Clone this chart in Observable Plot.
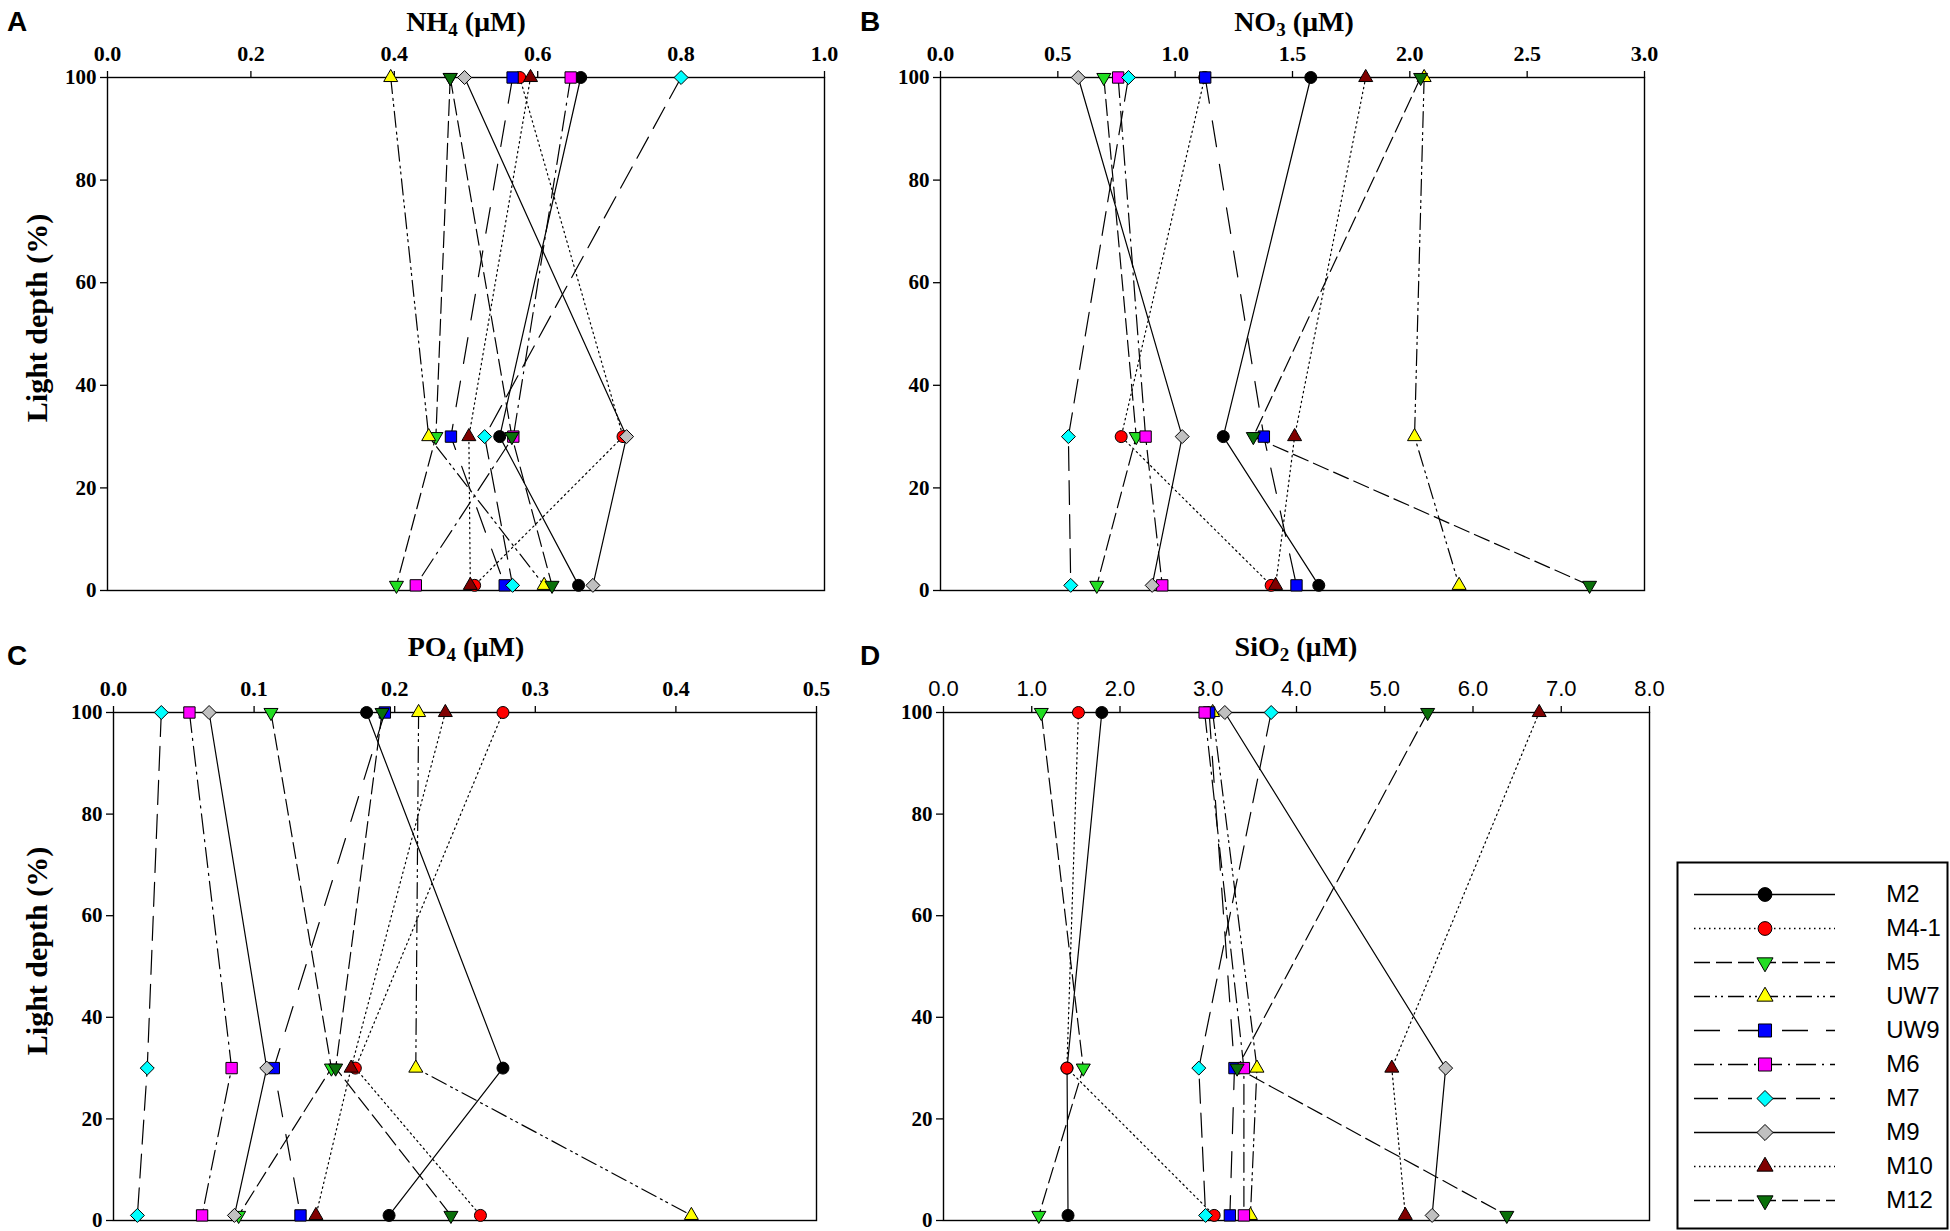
<!DOCTYPE html>
<html><head><meta charset="utf-8">
<script src="https://cdn.jsdelivr.net/npm/d3@7"></script>
<script src="https://cdn.jsdelivr.net/npm/@observablehq/plot@0.6"></script>
<style>
body{margin:0;background:#fff;}
#root{position:relative;width:1950px;height:1231px;overflow:hidden;background:#fff;color:#000;}
.abs{position:absolute;}
.title{font-family:"Liberation Serif","Times New Roman",serif;font-weight:bold;font-size:28px;transform:translate(-50%,-50%);white-space:nowrap;line-height:1;}
.title sub{font-size:0.68em;vertical-align:-0.25em;line-height:0;}
.letter{font-family:"Liberation Sans",Arial,sans-serif;font-weight:bold;font-size:28px;transform:translate(-50%,-50%);line-height:1;}
.ylab{font-family:"Liberation Serif","Times New Roman",serif;font-weight:bold;font-size:30px;transform:translate(-50%,-50%) rotate(-90deg);white-space:nowrap;line-height:1;}
</style></head>
<body><div id="root"></div>
<script>
// ---- data ----
const series = ["M2","M4-1","M5","UW7","UW9","M6","M7","M9","M10","M12"];
const depths = [100, 30, 1];
// values per series at light depths [100, 30, 1]
const nh4 = [
  [0.660, 0.547, 0.657],
  [0.575, 0.719, 0.512],
  [0.478, 0.458, 0.403],
  [0.395, 0.448, 0.609],
  [0.565, 0.479, 0.554],
  [0.646, 0.566, 0.430],
  [0.800, 0.526, 0.565],
  [0.498, 0.724, 0.677],
  [0.590, 0.504, 0.506],
  [0.478, 0.564, 0.620]
];
const no3 = [
  [1.578, 1.205, 1.612],
  [1.126, 0.770, 1.409],
  [0.696, 0.834, 0.666],
  [2.061, 2.020, 2.210],
  [1.128, 1.378, 1.517],
  [0.757, 0.874, 0.945],
  [0.801, 0.545, 0.555],
  [0.587, 1.030, 0.902],
  [1.812, 1.509, 1.428],
  [2.046, 1.333, 2.766]
];
const po4 = [
  [0.180, 0.277, 0.196],
  [0.277, 0.172, 0.261],
  [0.112, 0.155, 0.089],
  [0.217, 0.215, 0.411],
  [0.193, 0.114, 0.133],
  [0.054, 0.084, 0.063],
  [0.034, 0.024, 0.017],
  [0.068, 0.109, 0.086],
  [0.236, 0.169, 0.144],
  [0.191, 0.158, 0.240]
];
const sio2 = [
  [1.794, 1.400, 1.411],
  [1.529, 1.398, 3.067],
  [1.108, 1.584, 1.080],
  [3.050, 3.552, 3.478],
  [3.010, 3.297, 3.245],
  [2.959, 3.404, 3.404],
  [3.713, 2.893, 2.970],
  [3.188, 5.690, 5.537],
  [6.750, 5.080, 5.233],
  [5.486, 3.327, 6.383]
];
const depthTicks = [0, 20, 40, 60, 80, 100];
const nh4Ticks = [0, 0.2, 0.4, 0.6, 0.8, 1.0];
const no3Ticks = [0, 0.5, 1.0, 1.5, 2.0, 2.5, 3.0];
const po4Ticks = [0, 0.1, 0.2, 0.3, 0.4, 0.5];
const sio2Ticks = [0, 1, 2, 3, 4, 5, 6, 7, 8];

// ---- styles ----
const triangleDown = {
  draw(context, size) {
    const y = Math.sqrt(size / (3 * Math.sqrt(3)));
    context.moveTo(0, 2 * y);
    context.lineTo(Math.sqrt(3) * y, -y);
    context.lineTo(-Math.sqrt(3) * y, -y);
    context.closePath();
  }
};
const fills = ["#000000","#ff0000","#22dd22","#ffff00","#0000ff","#ff00ff","#00ffff","#c0c0c0","#800000","#0a700a"];
const symbols = ["circle","circle",triangleDown,"triangle","square","square","diamond2","diamond2","triangle",triangleDown];
const radii = [6.0, 6.0, 5.2, 5.2, 6.4, 6.4, 6.3, 6.3, 5.2, 5.2];
const dashes = [null, "1.5,3.5", "16,6", "16,5,2,4,2,5", "26,18", "20,6,2,6", "24,10", null, "1.5,3.5", "16,6"];

const serif = "Liberation Serif, Times New Roman, serif";
const sans = "Liberation Sans, Arial, sans-serif";
const root = document.getElementById("root");

function addText(cls, html, x, y) {
  const d = document.createElement("div");
  d.className = "abs " + cls;
  d.innerHTML = html;
  d.style.left = x + "px";
  d.style.top = y + "px";
  root.appendChild(d);
}

function panel(values, xTicks, tickFont, tickWeight, box) {
  const [x0, x1, y0, y1] = box;
  const mL = 100, mT = 70, mR = 24, mB = 10;
  const marks = [];
  series.forEach((s, i) => {
    const rows = depths.map((d, j) => ({depth: d, v: values[i][j]}));
    marks.push(Plot.line(rows, {x: "v", y: "depth", stroke: "black", strokeWidth: 1.2,
      strokeDasharray: dashes[i] || undefined}));
  });
  series.forEach((s, i) => {
    const rows = depths.map((d, j) => ({depth: d, v: values[i][j]}));
    marks.push(Plot.dot(rows, {x: "v", y: "depth", symbol: symbols[i], r: radii[i],
      fill: fills[i], stroke: "black", strokeWidth: 1}));
  });
  marks.unshift(
    Plot.frame({stroke: "black", strokeWidth: 1.4}),
    Plot.axisX({anchor: "top", ticks: xTicks, tickFormat: d3.format(".1f"), tickSize: 7, tickPadding: 10,
      fontSize: 22, fontFamily: tickFont, fontWeight: tickWeight, label: null, strokeWidth: 1.3}),
    Plot.axisY({anchor: "left", ticks: depthTicks, tickFormat: d => String(d), tickSize: 7, tickPadding: 4,
      fontSize: 21, fontFamily: serif, fontWeight: "bold", label: null, strokeWidth: 1.3})
  );
  const svg = Plot.plot({
    width: x1 - x0 + mL + mR, height: y1 - y0 + mT + mB,
    marginLeft: mL, marginRight: mR, marginTop: mT, marginBottom: mB,
    x: {domain: [xTicks[0], xTicks[xTicks.length - 1]]},
    y: {domain: [0, 100]},
    style: {overflow: "visible", background: "transparent", color: "black"},
    marks
  });
  svg.style.position = "absolute";
  svg.style.left = (x0 - mL) + "px";
  svg.style.top = (y0 - mT) + "px";
  root.appendChild(svg);
}

panel(nh4, nh4Ticks, serif, "bold", [107, 824, 77, 590]);
panel(no3, no3Ticks, serif, "bold", [940, 1644, 77, 590]);
panel(po4, po4Ticks, serif, "bold", [113, 816, 712, 1220]);
panel(sio2, sio2Ticks, sans, "normal", [943, 1649, 712, 1220]);

addText("title", "NH<sub>4</sub> (µM)", 466, 22);
addText("title", "NO<sub>3</sub> (µM)", 1294, 22);
addText("title", "PO<sub>4</sub> (µM)", 466, 647);
addText("title", "SiO<sub>2</sub> (µM)", 1296, 647);
addText("letter", "A", 17, 22);
addText("letter", "B", 870, 22);
addText("letter", "C", 17, 656);
addText("letter", "D", 870, 656);
addText("ylab", "Light depth (%)", 37, 318);
addText("ylab", "Light depth (%)", 37, 951);

// ---- legend ----
(function legend() {
  const marks = [Plot.frame({stroke: "black", strokeWidth: 2})];
  series.forEach((s, i) => {
    marks.push(Plot.ruleY([s], {y: d => d, x1: 0, x2: 1, stroke: "black", strokeWidth: 1.4,
      strokeDasharray: dashes[i] || undefined}));
    marks.push(Plot.dot([s], {x: 0.5, y: d => d, symbol: symbols[i], r: radii[i] * 1.15,
      fill: fills[i], stroke: "black", strokeWidth: 1}));
  });
  marks.push(Plot.text(series, {x: 1.36, y: d => d, text: d => d, textAnchor: "start",
    fontSize: 24, fontFamily: sans, fill: "black"}));
  const svg = Plot.plot({
    width: 272, height: 368, margin: 1,
    x: {domain: [0, 1], range: [18, 159], axis: null},
    y: {type: "point", domain: series, range: [32, 339], padding: 0, axis: null},
    style: {overflow: "visible", background: "white", color: "black"},
    marks
  });
  svg.style.position = "absolute";
  svg.style.left = "1676px";
  svg.style.top = "861px";
  root.appendChild(svg);
})();
</script>
</body></html>
